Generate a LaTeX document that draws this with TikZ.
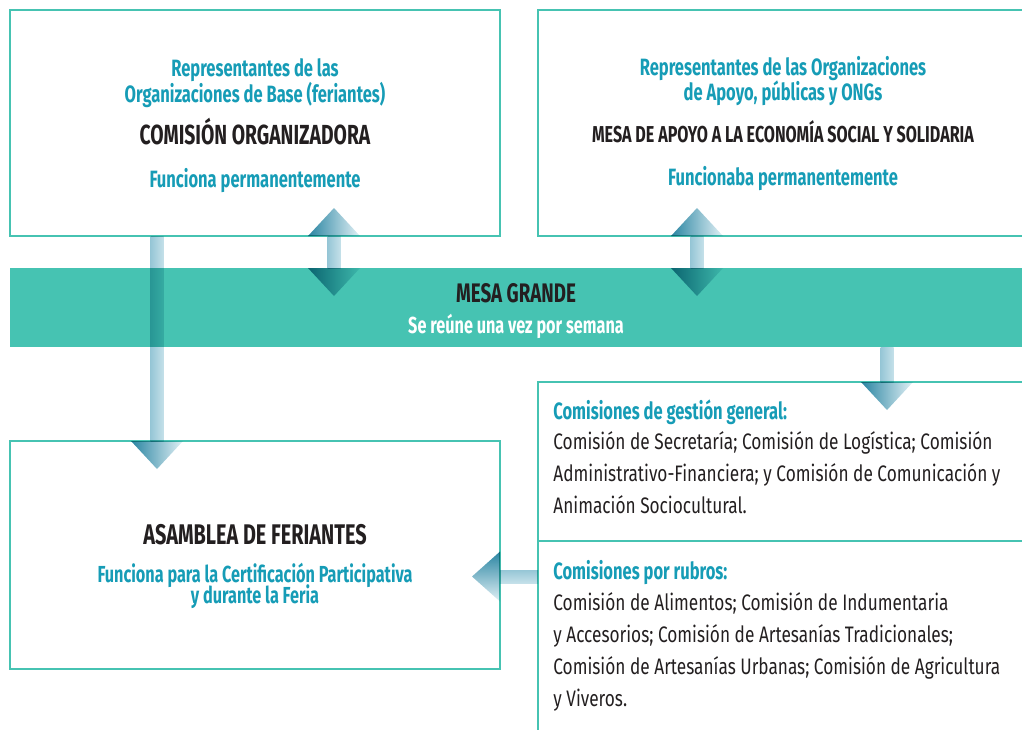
\documentclass[tikz,border=0pt]{standalone}
\usepackage{fontspec}
\setmainfont{Fira Sans}[FakeStretch=0.77,BoldFeatures={FakeStretch=0.70}]
\usetikzlibrary{calc}
\definecolor{verde}{RGB}{70,195,178}
\definecolor{azul}{RGB}{22,156,182}
\definecolor{negro}{RGB}{35,31,32}
\definecolor{flechaosc}{RGB}{42,133,162}
\definecolor{flechacla}{RGB}{225,240,245}
\definecolor{tallo}{RGB}{150,198,214}
\definecolor{tallocla}{RGB}{196,224,233}
\newdimen\px \px=0.5pt
\tikzset{
    caja/.style = {rectangle, draw=verde, line width=1.4pt, anchor=north west, inner sep=0pt, outer sep=0pt},
    franja/.style = {rectangle, fill=verde, anchor=north west, inner sep=0pt, outer sep=0pt},
    subazul/.style = {text=azul, align=center, anchor=base, inner sep=0pt, font=\bfseries\fontsize{11.8}{13}\selectfont},
    titulo/.style = {text=negro, align=center, anchor=base, inner sep=0pt, font=\bfseries\fontsize{13.8}{15}\selectfont},
    lista/.style = {text=negro, align=left, anchor=base west, inner sep=0pt, font=\fontsize{11.2}{16}\selectfont},
    punta/.style = {blend mode=multiply, left color=flechaosc, right color=flechacla},
    puntah/.style = {blend mode=multiply, top color=flechaosc, bottom color=flechacla},
    tallov/.style = {blend mode=multiply, left color=tallo, right color=tallocla},
    talloh/.style = {blend mode=multiply, top color=tallo, bottom color=tallocla}
}
\newcommand{\cabeza}[1]{\textcolor{azul}{\bfseries\fontsize{11.8}{16}\selectfont #1}}
% block arrows
\newcommand{\puntaabajo}[1]{\shade[punta] ($(#1)+(-26,0)$) -- ($(#1)+(26,0)$) -- ($(#1)+(0,28)$) -- cycle;}
\newcommand{\puntaarriba}[1]{\shade[punta] ($(#1)+(-26,0)$) -- ($(#1)+(26,0)$) -- ($(#1)+(0,-28)$) -- cycle;}
\newcommand{\puntaizq}[1]{\shade[puntah] ($(#1)+(0,-25)$) -- ($(#1)+(0,25)$) -- ($(#1)+(-28,0)$) -- cycle;}
\newcommand{\tallov}[2]{\shade[tallov] ($(#1)+(-6.5,0)$) rectangle ($(#2)+(6.5,0)$);}
\newcommand{\talloh}[2]{\shade[talloh] ($(#1)+(0,-6.5)$) rectangle ($(#2)+(0,6.5)$);}

\begin{document}
\begin{tikzpicture}[x=0.5pt,y=-0.5pt]
\path[use as bounding box] (0,0) rectangle (1022,729);
\clip (0,0) rectangle (1022,729);
%
\node[caja, minimum width=490\px, minimum height=226\px] at (10,10) (orga) {};
\node[caja, minimum width=520\px, minimum height=226\px] at (538,10) (apoyo) {};
\node[franja, minimum width=1030\px, minimum height=79\px] at (10,268) (mesa) {};
\node[caja, minimum width=490\px, minimum height=228\px] at (10,441) (asamblea) {};
\node[caja, minimum width=520\px, minimum height=159\px] at (538,382) (gestion) {};
\node[caja, minimum width=520\px, minimum height=230\px] at (538,541) (rubros) {};
%
\node[subazul] at (255,102) (orgarep) {Representantes de las\\Organizaciones de Base (feriantes)};
\node[titulo] at (255,144) (orgatit) {COMISIÓN ORGANIZADORA};
\node[subazul] at (255,187) (orgafun) {Funciona permanentemente};
%
\node[subazul, font=\bfseries\fontsize{11.8}{12.5}\selectfont] at (783,100) (apoyorep) {Representantes de las Organizaciones\\de Apoyo, públicas y ONGs};
\node[titulo, font=\bfseries\fontsize{11.5}{13}\selectfont] at (783,142) (apoyotit) {MESA DE APOYO A LA ECONOMÍA SOCIAL Y SOLIDARIA};
\node[subazul] at (783,185) (apoyofun) {Funcionaba permanentemente};
%
\node[titulo, font=\bfseries\fontsize{13.4}{15}\selectfont] at (516,302) (mesatit) {MESA GRANDE};
\node[subazul, text=white, font=\bfseries\fontsize{11.6}{13}\selectfont] at (516,333) (mesasub) {Se reúne una vez por semana};
%
\node[titulo, font=\bfseries\fontsize{14.2}{16}\selectfont] at (255,544) (asamtit) {ASAMBLEA DE FERIANTES};
\node[subazul, font=\bfseries\fontsize{11.6}{13}\selectfont] at (255,603) (asamfun) {Funciona para la Certificación Participativa\\[-2.5pt]y durante la Feria};
%
\node[lista] at (553,513) (gestxt) {\cabeza{Comisiones de gestión general:}\\[-1pt]Comisión de Secretaría; Comisión de Logística; Comisión\\Administrativo-Financiera; y Comisión de Comunicación y\\Animación Sociocultural.};
\node[lista] at (553,706) (rubtxt) {\cabeza{Comisiones por rubros:}\\[-0.5pt]Comisión de Alimentos; Comisión de Indumentaria\\y Accesorios; Comisión de Artesanías Tradicionales;\\Comisión de Artesanías Urbanas; Comisión de Agricultura\\y Viveros.};
%
\coordinate (a1) at (334,0 |- orga.south);
\coordinate (b1) at (334,0 |- mesa.north);
\coordinate (a2) at (697,0 |- apoyo.south);
\coordinate (b2) at (697,0 |- mesa.north);
\coordinate (a3) at (157,0 |- orga.south);
\coordinate (b3) at (157,0 |- asamblea.north);
\coordinate (a4) at (887,0 |- mesa.south);
\coordinate (b4) at (887,0 |- gestion.north);
\coordinate (a5) at (rubros.west |- 0,576.5);
\coordinate (b5) at (asamblea.east |- 0,576.5);
%
\tallov{a1}{b1} \puntaarriba{a1} \puntaabajo{b1}
\tallov{a2}{b2} \puntaarriba{a2} \puntaabajo{b2}
\tallov{a3}{b3} \puntaabajo{b3}
\tallov{a4}{b4} \puntaabajo{b4}
\talloh{a5}{b5} \puntaizq{b5}

\end{tikzpicture}
\end{document}
